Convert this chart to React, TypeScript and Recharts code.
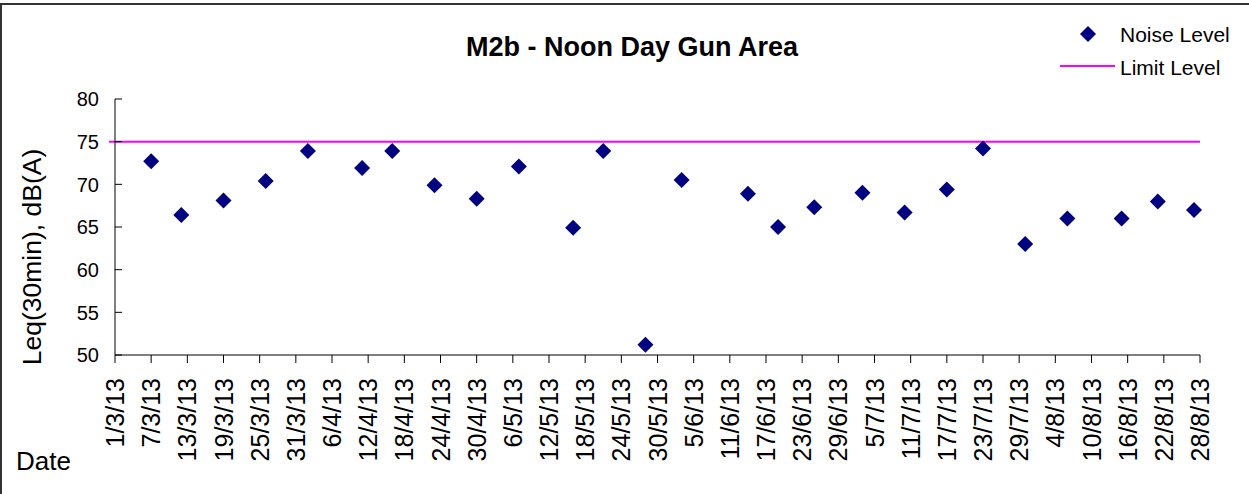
import { ScatterChart, Scatter, XAxis, YAxis, ReferenceLine } from 'recharts'

// survey dates (d/m/yy) and measured Leq(30min)
const sampleDates = [
  '7/3/13', '12/3/13', '19/3/13', '26/3/13', '2/4/13', '11/4/13', '16/4/13', '23/4/13',
  '30/4/13', '7/5/13', '16/5/13', '21/5/13', '28/5/13', '3/6/13', '14/6/13', '19/6/13',
  '25/6/13', '3/7/13', '10/7/13', '17/7/13', '23/7/13', '30/7/13', '6/8/13', '15/8/13',
  '21/8/13', '27/8/13',
]
const noiseLevels = [
  72.7, 66.4, 68.1, 70.4, 73.9, 71.9, 73.9, 69.9,
  68.3, 72.1, 64.9, 73.9, 51.2, 70.5, 68.9, 65.0,
  67.3, 69.0, 66.7, 69.4, 74.2, 63.0, 66.0, 66.0,
  68.0, 67.0,
]

// limit level runs from the day before the axis start to the last tick
const limitDates = ['28/2/13', '28/8/13']
const LIMIT = 75

const xTickDates = [
  '1/3/13', '7/3/13', '13/3/13', '19/3/13', '25/3/13', '31/3/13', '6/4/13', '12/4/13',
  '18/4/13', '24/4/13', '30/4/13', '6/5/13', '12/5/13', '18/5/13', '24/5/13', '30/5/13',
  '5/6/13', '11/6/13', '17/6/13', '23/6/13', '29/6/13', '5/7/13', '11/7/13', '17/7/13',
  '23/7/13', '29/7/13', '4/8/13', '10/8/13', '16/8/13', '22/8/13', '28/8/13',
]
const yTicks = [50, 55, 60, 65, 70, 75, 80]

const FONT = '"Liberation Sans", Arial, sans-serif'

const toTime = (s: string) => {
  const [d, m, y] = s.split('/').map(Number)
  return Date.UTC(2000 + y, m - 1, d)
}
const fmtDate = (t: number) => {
  const dt = new Date(t)
  return `${dt.getUTCDate()}/${dt.getUTCMonth() + 1}/${String(dt.getUTCFullYear()).slice(2)}`
}

const points = sampleDates.map((d, i) => ({ t: toTime(d), level: noiseLevels[i] }))
const xTicks = xTickDates.map(toTime)
const xDomain = [xTicks[0], xTicks[xTicks.length - 1]]

function Diamond(props: any) {
  const { cx, cy } = props
  const r = 8
  return <path d={`M${cx},${cy - r}L${cx + r},${cy}L${cx},${cy + r}L${cx - r},${cy}Z`} fill="#000080" />
}

function DateTick({ x, y, payload }: any) {
  return (
    <g transform={`translate(${x},${y})`}>
      <text transform="rotate(-90)" x={-15} y={0} dy="0.36em" textAnchor="end"
        fontSize={25} fontFamily={FONT} fill="#000">
        {fmtDate(payload.value)}
      </text>
    </g>
  )
}

function LevelTick({ x, y, payload }: any) {
  return (
    <g>
      <line x1={x} x2={x + 7} y1={y} y2={y} stroke="#000" strokeWidth={1} />
      <text x={x - 16} y={y} dy="0.36em" textAnchor="end" fontSize={20} fontFamily={FONT} fill="#000">
        {payload.value}
      </text>
    </g>
  )
}

export default function App() {
  return (
    <div style={{ position: 'absolute', left: 0, top: 0, width: 1249, height: 494, background: '#fff', fontFamily: FONT }}>
      <div style={{ position: 'absolute', left: 0, top: 3, right: 0, bottom: 0, borderTop: '2px solid #333', borderLeft: '2px solid #333' }} />

      <ScatterChart width={1249} height={494} margin={{ top: 99, right: 49, left: 0, bottom: 0 }}
        style={{ position: 'absolute', left: 0, top: 0 }}>
        <XAxis type="number" dataKey="t" domain={xDomain} ticks={xTicks} interval={0}
          height={139} tickSize={8} tickMargin={0} tick={<DateTick />}
          axisLine={{ stroke: '#000' }} tickLine={{ stroke: '#000' }} />
        <YAxis type="number" dataKey="level" domain={[50, 80]} ticks={yTicks} interval={0}
          width={115} tickSize={0} tickMargin={0} tickLine={false} tick={<LevelTick />}
          axisLine={{ stroke: '#000' }} />
        <ReferenceLine ifOverflow="visible" stroke="#ff00ff" strokeWidth={2}
          segment={[{ x: toTime(limitDates[0]), y: LIMIT }, { x: toTime(limitDates[1]), y: LIMIT }]} />
        <Scatter data={points} shape={<Diamond />} isAnimationActive={false} />
      </ScatterChart>

      <div style={{ position: 'absolute', left: 0, width: 1264, top: 32, textAlign: 'center', fontWeight: 'bold', fontSize: 27 }}>
        M2b - Noon Day Gun Area
      </div>

      <div style={{ position: 'absolute', left: 32, top: 257, width: 0, height: 0 }}>
        <div style={{ position: 'absolute', transform: 'translate(-50%, -50%) rotate(-90deg)', whiteSpace: 'nowrap', fontSize: 26.5 }}>
          Leq(30min), dB(A)
        </div>
      </div>

      <div style={{ position: 'absolute', left: 16, top: 446, fontSize: 26 }}>Date</div>

      <svg width={200} height={90} style={{ position: 'absolute', left: 1049, top: 10 }}>
        <path d="M39,16L47,24L39,32L31,24Z" fill="#000080" />
        <text x={71} y={24} dy="0.36em" fontSize={21} fontFamily={FONT}>Noise Level</text>
        <line x1={11} x2={66} y1={56} y2={56} stroke="#ff00ff" strokeWidth={2} />
        <text x={71} y={57} dy="0.36em" fontSize={21} fontFamily={FONT}>Limit Level</text>
      </svg>
    </div>
  )
}
